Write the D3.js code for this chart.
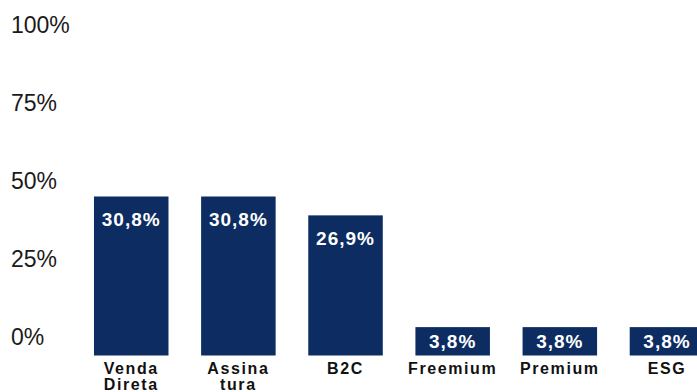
<!DOCTYPE html>
<html>
<head>
<meta charset="utf-8">
<script src="https://cdn.jsdelivr.net/npm/d3@7"></script>
<style>
  html, body { margin: 0; padding: 0; background: #ffffff; }
  svg { display: block; font-family: "Liberation Sans", Arial, Helvetica, sans-serif; }
</style>
</head>
<body>
<svg id="chart" width="697" height="392"></svg>
<script>
// Business model shares
const categories = ["Venda\nDireta", "Assina\ntura", "B2C", "Freemium", "Premium", "ESG"];
const values = [30.8, 30.8, 26.9, 3.8, 3.8, 3.8];
const tickValues = [0, 25, 50, 75, 100];

const baseline = 355.5;
const barColor = "#0c2c62";

const svg = d3.select("#chart");

// Percentage axis on the left (labels only)
const yAxisScale = d3.scaleLinear().domain([0, 100]).range([336.5, 24]);
const axis = d3.axisLeft(yAxisScale)
  .tickValues(tickValues)
  .tickFormat(d => d + "%")
  .tickSize(0);

const gAxis = svg.append("g").call(axis);
gAxis.select(".domain").remove();
gAxis.selectAll("text")
  .attr("x", 11)
  .attr("dy", "0.36em")
  .attr("text-anchor", "start")
  .attr("fill", "#1a1a1a")
  .style("font-size", "23px")
  .style("font-family", "\"Liberation Sans\", Arial, sans-serif");

// Bar positions and heights
const x = d3.scaleBand()
  .domain(categories)
  .range([77.9, 720.3])
  .paddingInner(0.3046)
  .paddingOuter(0.15);

const yBar = d3.scaleLinear().domain([0, 30.8]).range([baseline - 10, baseline - 159]);

const data = categories.map((c, i) => ({ cat: c, value: values[i] }));

svg.append("g")
  .selectAll("rect")
  .data(data)
  .join("rect")
  .attr("x", d => x(d.cat))
  .attr("width", x.bandwidth())
  .attr("y", d => yBar(d.value))
  .attr("height", d => baseline - yBar(d.value))
  .attr("fill", barColor);

// Value labels inside the bars
const fmt = v => v.toFixed(1).replace(".", ",") + "%";
svg.append("g")
  .selectAll("text")
  .data(data)
  .join("text")
  .attr("x", d => x(d.cat) + x.bandwidth() / 2)
  .attr("y", d => {
    const top = yBar(d.value);
    const h = baseline - top;
    return h > 50 ? top + 29.5 : top + h / 2 + 7;
  })
  .attr("text-anchor", "middle")
  .attr("fill", "#ffffff")
  .style("font-size", "19px")
  .style("font-weight", "bold")
  .style("letter-spacing", "1px")
  .text(d => fmt(d.value));

// Category labels under the bars (split names wrap onto a second line)
const cat = svg.append("g")
  .selectAll("text")
  .data(data)
  .join("text")
  .attr("text-anchor", "middle")
  .attr("fill", "#111111")
  .style("font-size", "16px")
  .style("font-weight", "bold")
  .style("letter-spacing", "1.6px");

cat.each(function(d) {
  const lines = d.cat.split("\n");
  const cx = x(d.cat) + x.bandwidth() / 2;
  d3.select(this).selectAll("tspan")
    .data(lines)
    .join("tspan")
    .attr("x", cx)
    .attr("y", (l, i) => 373.5 + i * 16.8)
    .text(l => l);
});
</script>
</body>
</html>
